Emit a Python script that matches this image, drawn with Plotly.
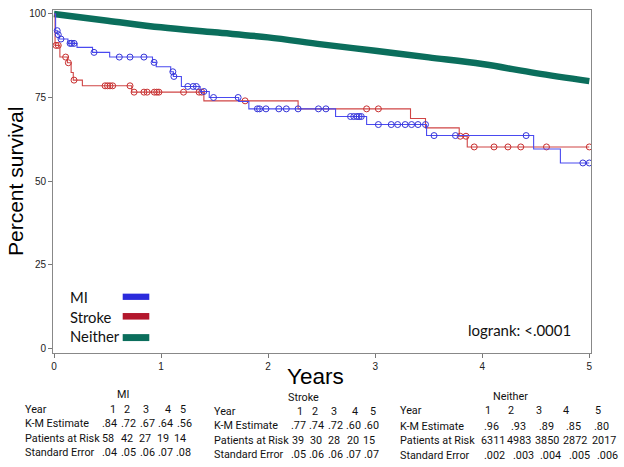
import numpy as np
import plotly.graph_objects as go

# ---------------- data ----------------
years_ticks = [0, 1, 2, 3, 4, 5]
pct_ticks = [0, 25, 50, 75, 100]

# MI step curve (event times, survival %)
mi_t = [0, 0.015, 0.035, 0.05, 0.13, 0.215, 0.36, 0.52, 0.92, 0.955, 1.09, 1.115,
        1.19, 1.365, 1.45, 1.725, 1.82, 2.63, 2.92, 3.48, 4.48, 4.73, 5.0]
mi_v = [100, 95.0, 93.8, 92.5, 91.2, 90.0, 88.5, 87.1, 85.5, 84.2, 82.7, 81.3,
        78.3, 76.8, 75.0, 73.8, 71.6, 69.3, 66.9, 63.6, 59.6, 55.4, 55.4]
mi_cens = [0.03, 0.04, 0.065, 0.15, 0.165, 0.187, 0.374, 0.61, 0.71, 0.84, 0.935,
           1.11, 1.12, 1.25, 1.30, 1.33, 1.40, 1.49, 1.72, 1.90, 1.92, 1.98, 2.10,
           2.17, 2.28, 2.47, 2.54, 2.77, 2.80, 2.83, 2.85, 2.87, 3.03, 3.15, 3.21,
           3.28, 3.34, 3.40, 3.47, 3.55, 3.75, 4.41, 4.94, 5.0]

# Stroke step curve
st_t = [0, 0.01, 0.055, 0.125, 0.16, 0.18, 0.265, 0.726, 1.40, 2.28, 3.33, 3.47,
        3.785, 3.86, 5.0]
st_v = [100, 90.6, 87.1, 85.4, 82.5, 80.2, 78.5, 76.6, 74.0, 71.6, 68.7, 65.9,
        63.4, 60.2, 60.2]
st_cens = [0.019, 0.04, 0.109, 0.134, 0.187, 0.477, 0.50, 0.523, 0.548, 0.71, 0.748,
           0.84, 0.87, 0.937, 0.96, 0.98, 1.21, 1.355, 1.38, 1.785, 2.92, 3.03,
           3.795, 3.848, 3.925, 4.11, 4.24, 4.36, 4.60, 5.0]

# Neither (large group, smooth-looking curve)
ne_t = [0, 0.5, 1, 1.5, 2, 2.5, 3, 3.5, 4, 4.5, 5]
ne_v = [100, 98.0, 96.0, 94.5, 93.0, 90.9, 89.0, 87.0, 85.0, 82.3, 79.9]

# tables
tab_years = ["1", "2", "3", "4", "5"]
mi_km = [".84", ".72", ".67", ".64", ".56"]
mi_risk = ["58", "42", "27", "19", "14"]
mi_se = [".04", ".05", ".06", ".07", ".08"]
st_km = [".77", ".74", ".72", ".60", ".60"]
st_risk = ["39", "30", "28", "20", "15"]
st_se = [".05", ".06", ".06", ".07", ".07"]
ne_km = [".96", ".93", ".89", ".85", ".80"]
ne_risk = ["6311", "4983", "3850", "2872", "2017"]
ne_se = [".002", ".003", ".004", ".005", ".006"]
row_labels = ["Year", "K-M Estimate", "Patients at Risk", "Standard Error"]

# ---------------- styles ----------------
BLUE_L, BLUE_M = "#4a4af0", "#3535d8"
RED_L, RED_M = "#d04545", "#c83030"
GREEN = "#0b6e5c"
SW_BLUE, SW_RED, SW_GREEN = "#2b2bdc", "#b3172c", "#0b6e5c"
TXT = "Lato"
TAB = "Roboto"
AX = "Liberation Sans"

W, H = 624, 467
# plot area in page pixels: left 53, right 591, top 8, bottom 353
ML, MT = 53, 8
MR, MB = W - 591, H - 353
PW, PH = W - ML - MR, H - MT - MB


def px(xp):   # pixel -> paper x
    return (xp - ML) / PW


def py(yp):   # pixel -> paper y
    return (H - MB - yp) / PH


def step_at(ts, vs, t):
    ts = np.asarray(ts)
    vs = np.asarray(vs)
    idx = np.searchsorted(ts, np.asarray(t), side="right") - 1
    return vs[np.clip(idx, 0, len(vs) - 1)]


fig = go.Figure()

fig.add_trace(go.Scatter(x=ne_t, y=ne_v, mode="lines", line=dict(color=GREEN, width=6.5),
                         line_shape="spline", hoverinfo="skip", showlegend=False))
fig.add_trace(go.Scatter(x=st_t, y=st_v, mode="lines", line=dict(color=RED_L, width=1.1, shape="hv"),
                         showlegend=False))
fig.add_trace(go.Scatter(x=st_cens, y=step_at(st_t, st_v, st_cens), mode="markers",
                         marker=dict(symbol="circle-open", size=6, color=RED_M, line=dict(width=1)),
                         showlegend=False))
fig.add_trace(go.Scatter(x=mi_t, y=mi_v, mode="lines", line=dict(color=BLUE_L, width=1.1, shape="hv"),
                         showlegend=False))
fig.add_trace(go.Scatter(x=mi_cens, y=step_at(mi_t, mi_v, mi_cens), mode="markers",
                         marker=dict(symbol="circle-open", size=6, color=BLUE_M, line=dict(width=1)),
                         showlegend=False))

ann = []
shapes = []

# legend
leg = [("MI", SW_BLUE, 296.5, 293.3, 299.6), ("Stroke", SW_RED, 316.5, 312.8, 319.4),
       ("Neither", SW_GREEN, 336.2, 334.0, 341.0)]
for name, col, yc, y0, y1 in leg:
    ann.append(dict(text=name, x=px(67.5), y=py(yc), xref="paper", yref="paper",
                    xanchor="left", yanchor="middle", showarrow=False,
                    font=dict(family=TXT, size=14.8, color="#111")))
    shapes.append(dict(type="rect", xref="paper", yref="paper", x0=px(122.7), x1=px(149.3),
                       y0=py(y1), y1=py(y0), fillcolor=col, line=dict(width=0)))

ann.append(dict(text="logrank: <.0001", x=px(519), y=py(330), xref="paper", yref="paper",
                xanchor="center", yanchor="middle", showarrow=False,
                font=dict(family=TXT, size=15, color="#111")))

# axis titles
ann.append(dict(text="Percent survival", x=px(16), y=py(181), xref="paper", yref="paper",
                textangle=-90, xanchor="center", yanchor="middle", showarrow=False,
                font=dict(family=AX, size=21, color="#000")))
ann.append(dict(text="Years", x=px(315), y=py(377), xref="paper", yref="paper",
                xanchor="center", yanchor="middle", showarrow=False,
                font=dict(family=AX, size=22.5, color="#000")))

# tables
tables = [
    dict(title="MI", tx=123.3, ty=395, lx=23, rows_y=[409.5, 424, 438.7, 453.3],
         cols=[[113.3, 126.7, 145.7, 167.7, 183.3], [109, 128, 147, 165, 184],
               [107.5, 127, 145, 162.5, 180], [109, 128, 147, 165, 183]],
         vals=[tab_years, mi_km, mi_risk, mi_se]),
    dict(title="Stroke", tx=303.3, ty=398, lx=212, rows_y=[411.5, 426.2, 440.7, 455.2],
         cols=[[300, 315, 334.3, 355, 372.7], [298.3, 316.7, 335, 353.3, 371.7],
               [298.3, 315.8, 334, 352.5, 369], [298, 316.7, 335, 353, 371.7]],
         vals=[tab_years, st_km, st_risk, st_se]),
    dict(title="Neither", tx=510, ty=397, lx=398, rows_y=[411.3, 426.5, 441, 455.7],
         cols=[[487.5, 511, 539.3, 566, 598.3], [491.7, 518.7, 546, 573.7, 601],
               [493, 519, 546.5, 575, 604], [494, 523.5, 550.5, 579, 607.5]],
         vals=[tab_years, ne_km, ne_risk, ne_se]),
]
tf = dict(family=TAB, size=10.8, color="#111")
for tb in tables:
    ann.append(dict(text=tb["title"], x=px(tb["tx"]), y=py(tb["ty"]), xref="paper", yref="paper",
                    xanchor="center", yanchor="middle", showarrow=False, font=tf))
    for lab, yr, cx, vals in zip(row_labels, tb["rows_y"], tb["cols"], tb["vals"]):
        ann.append(dict(text=lab, x=px(tb["lx"]), y=py(yr), xref="paper", yref="paper",
                        xanchor="left", yanchor="middle", showarrow=False, font=tf))
        for c, v in zip(cx, vals):
            ann.append(dict(text=v, x=px(c), y=py(yr), xref="paper", yref="paper",
                            xanchor="center", yanchor="middle", showarrow=False, font=tf))

# data ranges: x=0 at px 54, x=5 at 589.3; y=0 at py 348, y=100 at 12
xs = (589.3 - 54) / 5
ys = (348 - 12) / 100
x0 = -(54 - ML) / xs
x1 = 5 + ((W - MR) - 589.3) / xs
y0 = -((H - MB) - 348) / ys
y1 = 100 + (12 - MT) / ys

fig.update_layout(
    width=W, height=H, margin=dict(l=ML, r=MR, t=MT, b=MB, pad=0),
    paper_bgcolor="white", plot_bgcolor="white",
    annotations=ann, shapes=shapes, showlegend=False,
    xaxis=dict(range=[x0, x1], tickvals=years_ticks, ticks="outside", ticklen=4,
               tickcolor="#777", showline=True, linecolor="#888", linewidth=1, mirror=True,
               showgrid=False, zeroline=False, ticklabeloverflow="allow",
               tickfont=dict(family=AX, size=10, color="#222")),
    yaxis=dict(range=[y0, y1], tickvals=pct_ticks, ticks="outside", ticklen=4,
               tickcolor="#777", showline=True, linecolor="#888", linewidth=1, mirror=True,
               showgrid=False, zeroline=False, ticklabeloverflow="allow",
               tickfont=dict(family=AX, size=10, color="#222")),
)

# the browser's default 8px body margin would shift the figure; remove it
fig.write_html("out.html", config={"displayModeBar": False},
               post_script="document.body.style.margin='0';")
